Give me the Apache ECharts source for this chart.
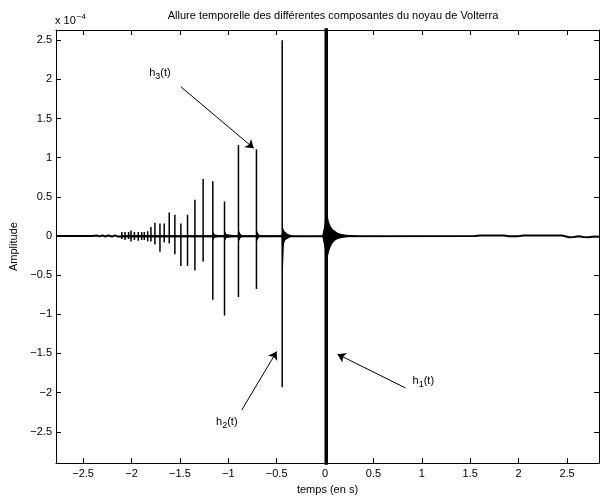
<!DOCTYPE html>
<html>
<head>
<meta charset="utf-8">
<title>Noyau de Volterra</title>
<script src="https://cdn.jsdelivr.net/npm/echarts@6/dist/echarts.min.js"></script>
<style>
  html, body { margin: 0; padding: 0; background: #fff; }
  #chart { width: 600px; height: 500px; }
</style>
</head>
<body>
<div id="chart"></div>
<script>
// amplitudes are given in units of 1e-4
const xTicks = [-2.5, -2, -1.5, -1, -0.5, 0, 0.5, 1, 1.5, 2, 2.5]
const yTicks = [-2.5, -2, -1.5, -1, -0.5, 0, 0.5, 1, 1.5, 2, 2.5]

// h3 impulses : time, peak, trough
const h3Time = [-2.100, -2.067, -2.030, -2.005, -1.970, -1.930, -1.895, -1.868, -1.833, -1.799, -1.758, -1.706, -1.662, -1.610, -1.552, -1.490, -1.421, -1.345, -1.260, -1.160, -1.039, -0.895, -0.709]
const h3Max = [0.05, 0.05, 0.05, 0.07, 0.05, 0.05, 0.05, 0.05, 0.06, 0.116, 0.17, 0.158, 0.158, 0.30, 0.272, 0.158, 0.272, 0.462, 0.728, 0.70, 0.44, 1.162, 1.108]
const h3Min = [-0.04, -0.05, -0.04, -0.07, -0.05, -0.06, -0.05, -0.05, -0.066, -0.07, -0.11, -0.20, -0.08, -0.095, -0.234, -0.382, -0.382, -0.44, -0.327, -0.813, -1.015, -0.778, -0.677]

// h2 impulse
const h2Time = [-0.443]
const h2Max = [2.5]
const h2Min = [-1.93]

// h1 impulse (runs past both ends of the axis)
const h1Time = [0.012]
const h1Max = [2.7]
const h1Min = [-2.95]

// envelope of the ringing that follows the impulses
const ringTime = [-1.165, -1.155, -1.14, -1.12, -1.044, -1.034, -1.02, -1.00, -0.900, -0.890, -0.875, -0.85, -0.714, -0.704, -0.69, -0.665, -0.448, -0.438, -0.425, -0.41, -0.39, -0.36, -0.32, -0.03, -0.005, 0.012, 0.025, 0.04, 0.06, 0.08, 0.10, 0.13, 0.17, 0.22, 0.30, 0.36]
const ringUp = [0, 0.05, 0.02, 0, 0, 0.06, 0.025, 0, 0, 0.07, 0.03, 0, 0, 0.07, 0.03, 0, 0, 0.12, 0.07, 0.045, 0.03, 0.015, 0, 0, 0.15, 0.45, 0.26, 0.18, 0.12, 0.085, 0.06, 0.04, 0.025, 0.015, 0.008, 0]
const ringDown = [0, -0.05, -0.02, 0, 0, -0.06, -0.025, 0, 0, -0.07, -0.03, 0, 0, -0.07, -0.03, 0, 0, -0.5, -0.1, -0.05, -0.03, -0.015, 0, 0, -0.15, -0.4, -0.28, -0.2, -0.13, -0.09, -0.06, -0.04, -0.025, -0.015, -0.008, 0]

// residual baseline
const baseTime = [-2.78, -2.40, -2.36, -2.33, -2.30, -2.27, -2.24, -2.20, -2.17, -2.14, -2.12, 1.55, 1.60, 1.85, 1.90, 2.00, 2.05, 2.45, 2.52, 2.57, 2.62, 2.67, 2.72, 2.78, 2.83]
const baseValue = [0, 0, 0.006, -0.005, 0.007, -0.006, 0.007, -0.007, 0.008, -0.008, 0, 0, 0.007, 0.007, -0.004, -0.002, 0.007, 0.007, -0.016, -0.012, -0.003, -0.013, -0.016, -0.008, -0.01]

// annotations : subscript, label position, arrow start, arrow tip
const notes = [
  { idx: '3', at: [-1.706, 2.082], from: [-1.490, 1.905], to: [-0.737, 1.120] },
  { idx: '2', at: [-1.015, -2.373], from: [-0.861, -2.222], to: [-0.500, -1.475] },
  { idx: '1', at: [1.015, -1.854], from: [0.830, -1.940], to: [0.129, -1.510] }
]

const FONT = 'Liberation Sans, Arial, Helvetica, sans-serif'
const fmt = v => String(v).replace('-', '\u2212')

// vertical strokes, joined through zero
const spikes = []
const pushSpikes = (ts, hi, lo) => {
  ts.forEach((t, i) => {
    spikes.push([t, 0], [t, hi[i]], [t, lo[i]], [t, 0])
  })
}
pushSpikes(h3Time, h3Max, h3Min)
pushSpikes(h2Time, h2Max, h2Min)

const h1Line = []
h1Time.forEach((t, i) => { h1Line.push([t, h1Max[i]], [t, h1Min[i]]) })

const baseline = baseTime.map((t, i) => [t, baseValue[i]])
const envUp = ringTime.map((t, i) => [t, ringUp[i]])
const envDown = ringTime.map((t, i) => [t, ringDown[i]])

const xMin = -2.78, xMax = 2.83, yMin = -2.9, yMax = 2.63

const axisCommon = {
  type: 'value',
  splitLine: { show: false },
  axisLine: { show: true, onZero: false, lineStyle: { color: '#000', width: 1 } },
  axisTick: { show: true, inside: true, length: 5, lineStyle: { color: '#000' } }
}

const chart = echarts.init(document.getElementById('chart'), null, { renderer: 'canvas' })

chart.setOption({
  animation: false,
  backgroundColor: '#fff',
  title: {
    text: 'Allure temporelle des différentes composantes du noyau de Volterra',
    left: 328,
    top: 5,
    textAlign: 'center',
    textStyle: { fontFamily: FONT, fontSize: 11, fontWeight: 'normal', color: '#000' }
  },
  graphic: [{
    type: 'text',
    left: 55,
    top: 13,
    style: {
      text: 'x 10{sup|\u22124}',
      fontFamily: FONT,
      fontSize: 11,
      fill: '#000',
      rich: { sup: { fontSize: 8, fontFamily: FONT, padding: [0, 0, 7, 1] } }
    }
  }],
  grid: { left: 55, right: 1, top: 30, bottom: 34, containLabel: false },
  xAxis: [
    Object.assign({}, axisCommon, {
      min: xMin, max: xMax,
      position: 'bottom',
      name: 'temps (en s)',
      nameLocation: 'middle',
      nameGap: 20,
      nameTextStyle: { fontFamily: FONT, fontSize: 11, color: '#000', verticalAlign: 'top' },
      axisTick: Object.assign({}, axisCommon.axisTick, { customValues: xTicks }),
      axisLabel: { customValues: xTicks, formatter: fmt, fontFamily: FONT, fontSize: 11, color: '#000', margin: 5 }
    }),
    Object.assign({}, axisCommon, {
      min: xMin, max: xMax,
      position: 'top',
      axisTick: Object.assign({}, axisCommon.axisTick, { customValues: xTicks }),
      axisLabel: { show: false }
    })
  ],
  yAxis: [
    Object.assign({}, axisCommon, {
      min: yMin, max: yMax,
      position: 'left',
      name: 'Amplitude',
      nameLocation: 'middle',
      nameRotate: 90,
      nameGap: 37,
      nameTextStyle: { fontFamily: FONT, fontSize: 11, color: '#000' },
      axisTick: Object.assign({}, axisCommon.axisTick, { customValues: yTicks }),
      axisLabel: { customValues: yTicks, formatter: fmt, fontFamily: FONT, fontSize: 11, color: '#000', margin: 4 }
    }),
    Object.assign({}, axisCommon, {
      min: yMin, max: yMax,
      position: 'right',
      axisTick: Object.assign({}, axisCommon.axisTick, { customValues: yTicks }),
      axisLabel: { show: false }
    })
  ],
  series: [
    {
      name: 'base',
      type: 'line',
      data: baseline,
      symbol: 'none',
      silent: true,
      lineStyle: { color: '#000', width: 2 }
    },
    {
      name: 'ringUp',
      type: 'line',
      data: envUp,
      symbol: 'none',
      silent: true,
      lineStyle: { width: 0 },
      areaStyle: { color: '#000', opacity: 1, origin: 'auto' }
    },
    {
      name: 'ringDown',
      type: 'line',
      data: envDown,
      symbol: 'none',
      silent: true,
      lineStyle: { width: 0 },
      areaStyle: { color: '#000', opacity: 1, origin: 'auto' }
    },
    {
      name: 'h2h3',
      type: 'line',
      data: spikes,
      symbol: 'none',
      silent: true,
      lineStyle: { color: '#000', width: 1.5 }
    },
    {
      name: 'h1',
      type: 'line',
      data: h1Line,
      symbol: 'none',
      silent: true,
      lineStyle: { color: '#000', width: 3.5 },
      markLine: {
        silent: true,
        symbol: ['none', 'arrow'],
        symbolSize: 8,
        label: { show: false },
        lineStyle: { color: '#000', width: 1, type: 'solid' },
        data: notes.map(n => [{ coord: n.from }, { coord: n.to }])
      },
      markPoint: {
        silent: true,
        symbol: 'circle',
        symbolSize: 0,
        data: notes.map(n => ({
          coord: n.at,
          label: {
            show: true,
            position: 'inside',
            formatter: 'h{sub|' + n.idx + '}(t)',
            fontFamily: FONT,
            fontSize: 11,
            color: '#000',
            rich: { sub: { fontSize: 9, fontFamily: FONT, color: '#000', padding: [7, 0, 0, 0] } }
          }
        }))
      }
    }
  ]
})

window.addEventListener('resize', () => chart.resize())
</script>
</body>
</html>
